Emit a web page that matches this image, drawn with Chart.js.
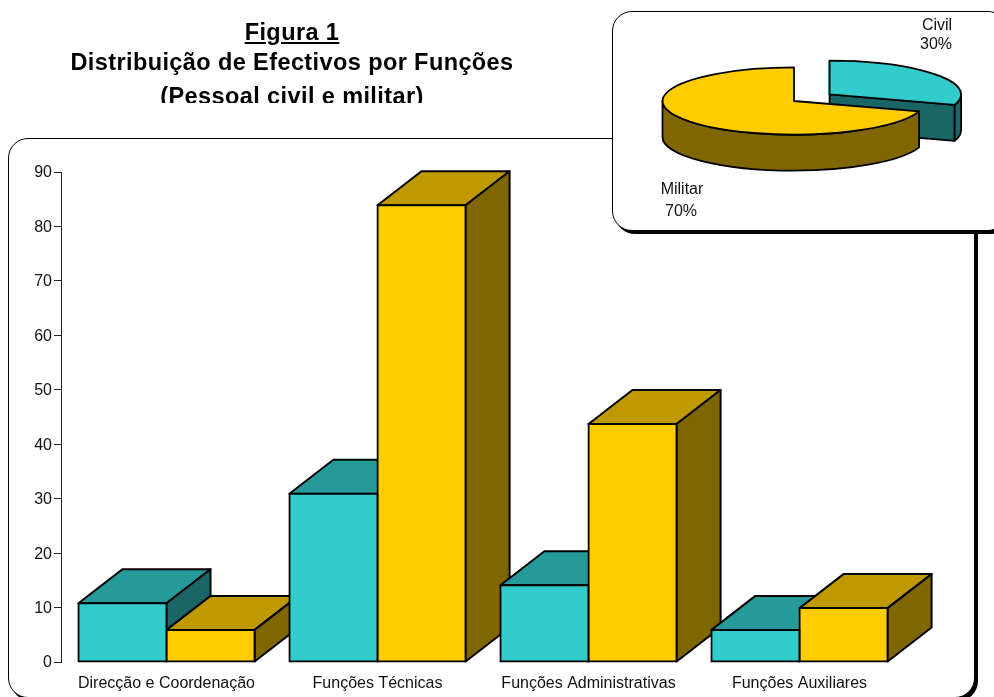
<!DOCTYPE html>
<html>
<head>
<meta charset="utf-8">
<script src="https://cdn.jsdelivr.net/npm/chart.js@4"></script>
<style>
html,body{margin:0;padding:0;background:#fff;overflow:hidden;}
#page{position:relative;width:994px;height:697px;overflow:hidden;font-family:"Liberation Sans",Arial,sans-serif;color:#000;}
.panel{position:absolute;background:#fff;border:1.5px solid #000;box-sizing:border-box;}
#mainPanel{left:8px;top:138px;width:966.5px;height:560px;border-radius:20px;box-shadow:3px 3px 0 #000;}
#piePanel{left:612px;top:11px;width:396px;height:219.5px;border-radius:20px;box-shadow:3px 3px 0 #000;}
canvas{position:absolute;left:0;top:0;}
#title{position:absolute;left:42px;width:500px;top:0;height:103px;overflow:hidden;text-align:center;font-weight:bold;font-size:23.5px;letter-spacing:.4px;}
#title div{position:absolute;left:0;width:100%;line-height:26px;white-space:nowrap;}
</style>
</head>
<body>
<div id="page">
  <div id="mainPanel" class="panel"></div>
  <canvas id="barCanvas" width="994" height="697" style="width:994px;height:697px"></canvas>
  <div id="piePanel" class="panel"></div>
  <canvas id="pieCanvas" width="994" height="240" style="width:994px;height:240px"></canvas>
  <div id="title">
    <div style="top:19px;text-decoration:underline;">Figura 1</div>
    <div style="top:49px;">Distribuição de Efectivos por Funções</div>
    <div style="top:83px;">(Pessoal civil e militar)</div>
  </div>
</div>
<script>
const categories = ["Direcção e Coordenação", "Funções Técnicas", "Funções Administrativas", "Funções Auxiliares"];
const civilValues = [10.8, 30.9, 14.1, 5.9];
const militarValues = [5.9, 83.9, 43.7, 9.9];
const axisTicks = [0, 10, 20, 30, 40, 50, 60, 70, 80, 90];
const sliceNames = ["Civil", "Militar"];
const sliceValues = [30, 70];

const CYAN = ["#33CCCC", "#269999", "#1A6666"];
const GOLD = ["#FFCC00", "#BF9900", "#806600"];
const FONT = '"Liberation Sans", Arial, sans-serif';

// Oblique depth of the bars, in pixels.
const DEPTH_X = 44, DEPTH_Y = 34;

function face(ctx, pts, fill) {
  ctx.beginPath();
  pts.forEach((p, i) => i ? ctx.lineTo(p[0], p[1]) : ctx.moveTo(p[0], p[1]));
  ctx.closePath();
  ctx.fillStyle = fill;
  ctx.fill();
  ctx.stroke();
}

// Top and side faces go underneath the bar fronts the library draws.
const barDepth = {
  id: "barDepth",
  beforeDatasetsDraw(chart) {
    const ctx = chart.ctx;
    const sets = [chart.getDatasetMeta(0).data, chart.getDatasetMeta(1).data];
    const tones = [CYAN, GOLD];
    ctx.save();
    ctx.strokeStyle = "#000";
    ctx.lineWidth = 2;
    ctx.lineJoin = "round";
    categories.forEach((_, i) => {
      sets.forEach((bars, s) => {
        const b = bars[i];
        const l = b.x - b.width / 2, r = b.x + b.width / 2;
        const t = b.y, bottom = b.base;
        face(ctx, [[l, t], [l + DEPTH_X, t - DEPTH_Y], [r + DEPTH_X, t - DEPTH_Y], [r, t]], tones[s][1]);
        face(ctx, [[r, t], [r + DEPTH_X, t - DEPTH_Y], [r + DEPTH_X, bottom - DEPTH_Y], [r, bottom]], tones[s][2]);
      });
    });
    ctx.restore();
  }
};

new Chart(document.getElementById("barCanvas"), {
  type: "bar",
  data: {
    labels: categories,
    datasets: [
      { label: "Civil", data: civilValues, backgroundColor: CYAN[0] },
      { label: "Militar", data: militarValues, backgroundColor: GOLD[0] }
    ]
  },
  options: {
    responsive: false,
    animation: false,
    events: [],
    layout: { padding: { left: 0, right: 89, top: 172, bottom: 0 } },
    datasets: {
      bar: {
        categoryPercentage: 0.835,
        barPercentage: 1,
        borderColor: "#000",
        borderWidth: 2,
        borderSkipped: false,
        inflateAmount: 1,
        clip: false
      }
    },
    plugins: { legend: { display: false }, title: { display: false }, tooltip: { enabled: false } },
    scales: {
      x: {
        grid: { display: false },
        border: { display: false },
        ticks: { color: "#111", font: { family: FONT, size: 16 }, padding: 4, maxRotation: 0, autoSkip: false },
        afterFit(scale) { scale.height = 35; }
      },
      y: {
        min: 0,
        max: 90,
        afterBuildTicks(scale) { scale.ticks = axisTicks.map(v => ({ value: v })); },
        grid: { drawOnChartArea: false, color: "#222", tickLength: 7, lineWidth: 1 },
        border: { color: "#222", width: 1 },
        ticks: { color: "#111", font: { family: FONT, size: 16 }, padding: 2, labelOffset: 1 },
        afterFit(scale) { scale.width = 61; }
      }
    }
  },
  plugins: [barDepth]
});

// Flattened pie: wedges are squashed vertically and given a wall below the rim.
const FLATTEN = 0.256, WALL = 36, RADIUS = 131.5, EXPLODE = 44;
const LINE = 1.8;
const civilFix = 1 - Math.sin(sliceValues[0] / 100 * 2 * Math.PI);

function centreOf(arc) {
  const mid = (arc.startAngle + arc.endAngle) / 2;
  const off = (arc.options.offset || 0) / 4;
  const extra = off * (1 - Math.sin(Math.min(Math.PI, arc.circumference)));
  return {
    cx: arc.x + Math.cos(mid) * (off + extra),
    cy: arc.y + Math.sin(mid) * (off + extra) * FLATTEN,
    R: arc.outerRadius,
    ry: arc.outerRadius * FLATTEN
  };
}

const pieRelief = {
  id: "pieRelief",
  beforeDatasetsDraw(chart) {
    const ctx = chart.ctx;
    const arcs = chart.getDatasetMeta(0).data;
    const tones = [CYAN, GOLD];
    ctx.save();
    ctx.strokeStyle = "#000";
    ctx.lineWidth = LINE;
    ctx.lineJoin = "round";
    arcs.forEach((arc, i) => {
      const { cx, cy, R, ry } = centreOf(arc);
      const dark = tones[i][2];
      // Cut face of the detached slice, visible through the gap.
      if (arc.endAngle < Math.PI / 2 + 1 && arc.endAngle > 0) {
        const ex = cx + Math.cos(arc.endAngle) * R, ey = cy + Math.sin(arc.endAngle) * ry;
        face(ctx, [[cx, cy], [ex, ey], [ex, ey + WALL], [cx, cy + WALL]], dark);
      }
      // Outer wall along the near half of the rim.
      const a0 = Math.max(arc.startAngle, 0), a1 = Math.min(arc.endAngle, Math.PI);
      if (a1 > a0) {
        ctx.beginPath();
        ctx.ellipse(cx, cy, R, ry, 0, a0, a1);
        ctx.ellipse(cx, cy + WALL, R, ry, 0, a1, a0, true);
        ctx.closePath();
        ctx.fillStyle = dark;
        ctx.fill();
        ctx.stroke();
      }
    });
    ctx.restore();
    // Squash the wedges about the pie's centre line while the library paints them.
    const yc = arcs[0].y;
    ctx.save();
    ctx.translate(0, yc);
    ctx.scale(1, FLATTEN);
    ctx.translate(0, -yc);
  },
  afterDatasetsDraw(chart) {
    const ctx = chart.ctx;
    ctx.restore();
    const arcs = chart.getDatasetMeta(0).data;
    ctx.save();
    ctx.strokeStyle = "#000";
    ctx.lineWidth = LINE;
    ctx.lineJoin = "round";
    arcs.forEach(arc => {
      const { cx, cy, R, ry } = centreOf(arc);
      ctx.beginPath();
      ctx.moveTo(cx, cy);
      ctx.ellipse(cx, cy, R, ry, 0, arc.startAngle, arc.endAngle);
      ctx.closePath();
      ctx.stroke();
    });
    ctx.fillStyle = "#111";
    ctx.textAlign = "center";
    ctx.textBaseline = "alphabetic";
    ctx.font = "16px " + FONT;
    const total = sliceValues.reduce((a, b) => a + b, 0);
    const spots = [[937, 30, 936, 49], [682, 194, 681, 216]];
    sliceNames.forEach((name, i) => {
      ctx.fillText(name, spots[i][0], spots[i][1]);
      ctx.fillText(Math.round(sliceValues[i] / total * 100) + "%", spots[i][2], spots[i][3]);
    });
    ctx.restore();
  }
};

new Chart(document.getElementById("pieCanvas"), {
  type: "pie",
  data: {
    labels: sliceNames,
    datasets: [{
      data: sliceValues,
      backgroundColor: [CYAN[0], GOLD[0]],
      borderWidth: 0,
      offset: [EXPLODE * 4 / (1 + civilFix), 0],
      radius: RADIUS,
      clip: false
    }]
  },
  options: {
    responsive: false,
    animation: false,
    events: [],
    layout: { padding: { left: 594, right: 0, top: 0, bottom: 38 } },
    plugins: { legend: { display: false }, title: { display: false }, tooltip: { enabled: false } }
  },
  plugins: [pieRelief]
});
</script>
</body>
</html>
